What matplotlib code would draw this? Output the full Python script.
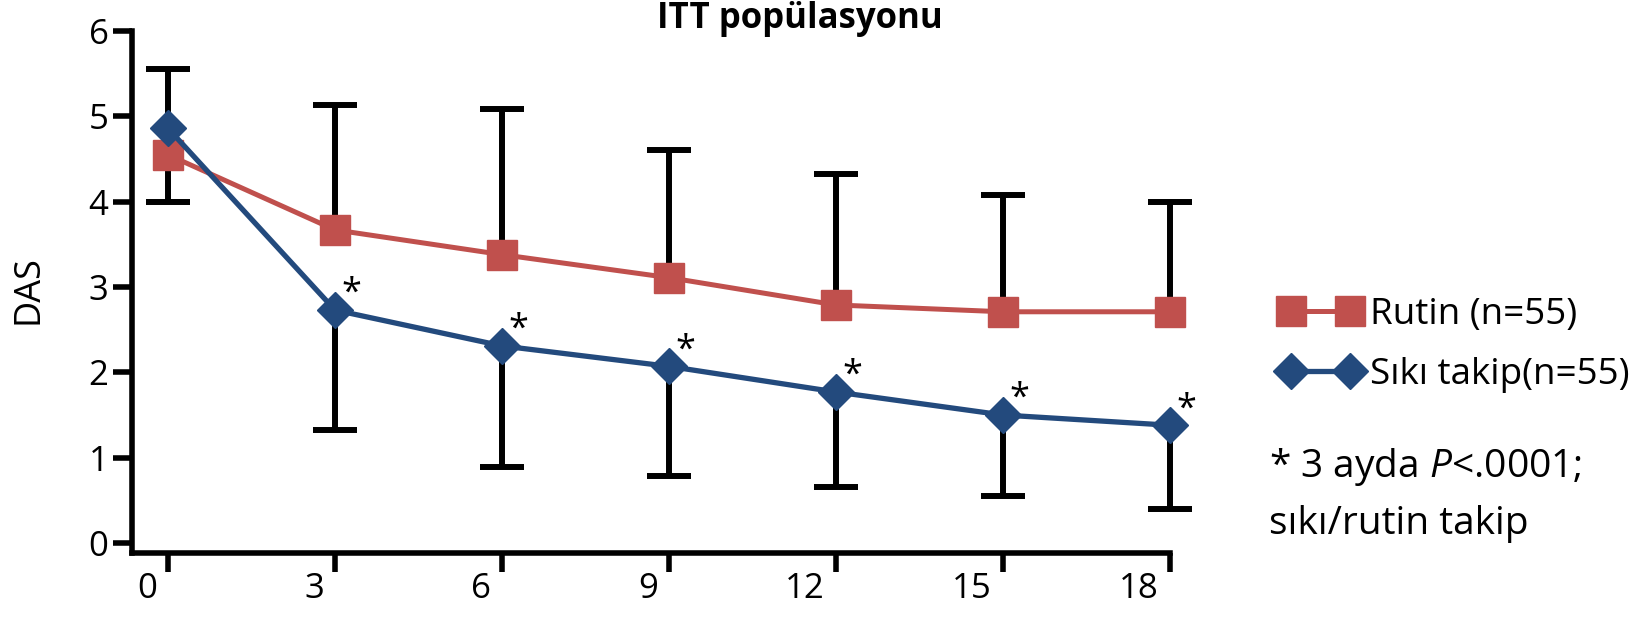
import matplotlib
matplotlib.use("Agg")
import matplotlib.pyplot as plt
from matplotlib.lines import Line2D
from matplotlib.transforms import ScaledTranslation

plt.rcParams["font.family"] = ["Open Sans", "DejaVu Sans"]
plt.rcParams["mathtext.fontset"] = "custom"
plt.rcParams["mathtext.rm"] = "Open Sans"
plt.rcParams["mathtext.it"] = "Open Sans:italic"

# DAS ortalamaları ve hata çubuğu uçları (ay bazında)
months = [0, 3, 6, 9, 12, 15, 18]
rutin_mean = [4.55, 3.67, 3.38, 3.11, 2.79, 2.71, 2.71]
rutin_upper = [5.55, 5.13, 5.09, 4.61, 4.32, 4.08, 4.00]
siki_mean = [4.86, 2.73, 2.31, 2.07, 1.77, 1.50, 1.38]
siki_lower = [4.00, 1.32, 0.89, 0.79, 0.66, 0.55, 0.40]
star_months = [3, 6, 9, 12, 15, 18]

red = "#C0504D"
blue = "#234A7D"

fig = plt.figure(figsize=(16.46, 6.22), dpi=100)
ax = fig.add_axes([0.0802, 0.111, 0.6306, 0.839])

# hata çubukları: rutin yukarı, sıkı takip aşağı
eb = dict(color="black", zorder=1, clip_on=False)
ax.vlines(months, rutin_mean, rutin_upper, lw=4.3, **eb)
ax.vlines(months, siki_lower, siki_mean, lw=4.3, **eb)
ax.plot(months, rutin_upper, ls="none", marker="_", ms=31, mew=4.3, **eb)
ax.plot(months, siki_lower, ls="none", marker="_", ms=31, mew=4.3, **eb)

ax.plot(months, rutin_mean, color=red, lw=3.6, marker="s", ms=21.5, zorder=3, clip_on=False)
ax.plot(months, siki_mean, color=blue, lw=3.8, marker="D", ms=18.5, zorder=4, clip_on=False)

for m in star_months:
    i = months.index(m)
    ax.annotate("*", (m, siki_mean[i]), xytext=(12, 5), textcoords="offset points",
                fontsize=26, ha="center", va="baseline", zorder=5, annotation_clip=False)

ax.set_xlim(-0.647, 18)
ax.set_ylim(-0.117, 6)
ax.set_xticks(months)
ax.set_yticks(range(0, 7))

for side in ["top", "right"]:
    ax.spines[side].set_visible(False)
for side in ["left", "bottom"]:
    ax.spines[side].set_linewidth(4)
ax.tick_params(axis="y", length=14, width=4, labelsize=25, pad=3)
ax.tick_params(axis="x", length=14, width=4, labelsize=25, pad=0)

# x etiketleri çentiğin soluna yaslı
shift = ScaledTranslation(-11 / 100, 0, fig.dpi_scale_trans)
for lab in ax.get_xticklabels():
    lab.set_ha("right")
    lab.set_transform(lab.get_transform() + shift)

fig.text(0.0176, 0.535, "DAS", fontsize=26, rotation=90, ha="center", va="center")

fig.text(0.486, 0.97, "ITT popülasyonu", fontsize=25, fontweight="bold",
         ha="center", va="center")

handles = [
    Line2D([], [], color=red, lw=3.6, marker="s", ms=21.5),
    Line2D([], [], color=blue, lw=3.8, marker="D", ms=18.5),
]
fig.legend(handles, ["Rutin (n=55)", "Sıkı takip(n=55)"], loc="center left",
           bbox_to_anchor=(0.7776, 0.446), frameon=False, fontsize=26.5,
           numpoints=2, handlelength=2.2, handletextpad=0.25, labelspacing=0.65,
           borderpad=0, borderaxespad=0)

fig.text(0.771, 0.250, r"* 3 ayda $\mathit{P}$<.0001;", fontsize=28, ha="left", va="center")
fig.text(0.771, 0.158, "sıkı/rutin takip", fontsize=28, ha="left", va="center")

fig.savefig("out.png", dpi=100)
